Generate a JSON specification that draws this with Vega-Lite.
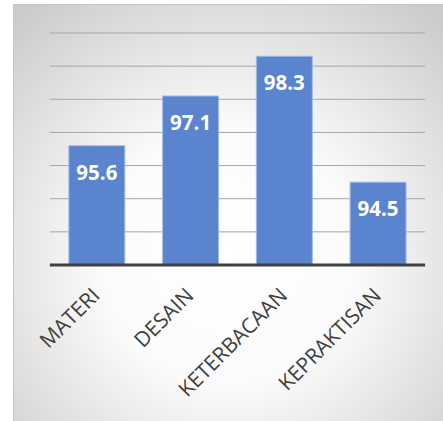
{
  "$schema": "https://vega.github.io/schema/vega-lite/v6.json",
  "autosize": {"type": "none"},
  "width": 430,
  "height": 417,
  "padding": {"left": 13, "top": 4, "right": 0, "bottom": 0},
  "background": "#ffffff",
  "view": {
    "fill": {"gradient": "radial", "x1": 0.5, "y1": 0.6, "r1": 0, "x2": 0.5, "y2": 0.6, "r2": 0.74,
      "stops": [{"offset": 0, "color": "#ffffff"}, {"offset": 0.4, "color": "#fbfbfb"}, {"offset": 1, "color": "#cbcbcb"}]},
    "stroke": "#c4c4c4",
    "strokeWidth": 1
  },
  "datasets": {
    "bars": [
      {"cat": "MATERI", "value": 95.6},
      {"cat": "DESAIN", "value": 97.1},
      {"cat": "KETERBACAAN", "value": 98.3},
      {"cat": "KEPRAKTISAN", "value": 94.5}
    ],
    "grid": [{"g": 93}, {"g": 94}, {"g": 95}, {"g": 96}, {"g": 97}, {"g": 98}, {"g": 99}]
  },
  "resolve": {"scale": {"x": "shared", "y": "shared"}},
  "encoding": {
    "x": {"field": "cat", "type": "nominal", "sort": null,
      "scale": {"domain": ["MATERI", "DESAIN", "KETERBACAAN", "KEPRAKTISAN"], "paddingInner": 0.4027, "paddingOuter": 0.495, "align": 0.602},
      "axis": null},
    "y": {"type": "quantitative", "scale": {"domain": [87.293, 99.875], "nice": false, "zero": false}, "axis": null}
  },
  "layer": [
    {
      "data": {"name": "grid"},
      "mark": {"type": "rule", "color": "#a6a6a6", "strokeWidth": 1},
      "encoding": {
        "x": {"datum": "MATERI", "type": "nominal", "bandPosition": -0.34},
        "x2": {"datum": "KEPRAKTISAN", "bandPosition": 1.34},
        "y": {"field": "g", "type": "quantitative"}
      }
    },
    {
      "data": {"name": "bars"},
      "mark": {"type": "bar", "color": "#5b84cf", "stroke": "#a3bce8", "strokeWidth": 1},
      "encoding": {
        "y": {"field": "value", "type": "quantitative"},
        "y2": {"datum": 92}
      }
    },
    {
      "data": {"values": [{"base": 92}]},
      "mark": {"type": "rule", "color": "#404040", "strokeWidth": 3},
      "encoding": {
        "x": {"datum": "MATERI", "type": "nominal", "bandPosition": -0.34},
        "x2": {"datum": "KEPRAKTISAN", "bandPosition": 1.34},
        "y": {"field": "base", "type": "quantitative"}
      }
    },
    {
      "data": {"name": "bars"},
      "mark": {"type": "text", "color": "#ffffff", "font": "Open Sans", "fontWeight": "bold", "fontSize": 20.5, "baseline": "middle", "align": "center", "dy": 28},
      "encoding": {
        "y": {"field": "value", "type": "quantitative"},
        "text": {"field": "value", "type": "quantitative", "format": ".1f"}
      }
    },
    {
      "data": {"name": "bars"},
      "mark": {"type": "text", "color": "#404040", "font": "Open Sans", "fontSize": 21, "angle": 315, "align": "right", "baseline": "middle", "dx": -19.5, "dy": 19.5},
      "encoding": {
        "y": {"datum": 92},
        "text": {"field": "cat", "type": "nominal"}
      }
    }
  ]
}
